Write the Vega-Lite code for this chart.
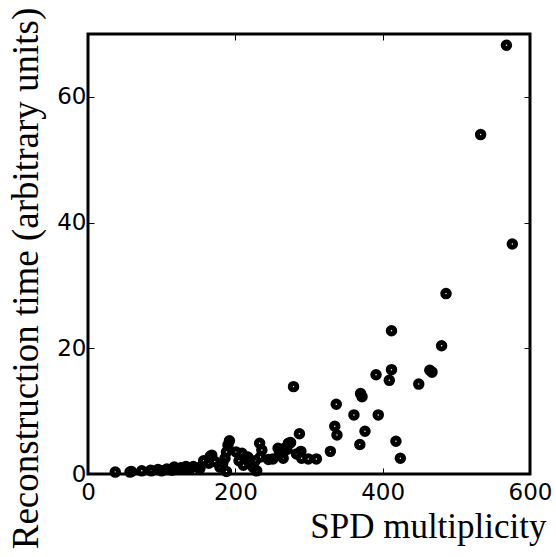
{
  "$schema": "https://vega.github.io/schema/vega-lite/v6.json",
  "width": 442,
  "height": 440,
  "autosize": "none",
  "padding": {"left": 88, "top": 34, "right": 26, "bottom": 83},
  "background": "white",
  "config": {
    "view": {"stroke": "black", "strokeWidth": 3},
    "axis": {"domain": false, "grid": false}
  },
  "data": {
    "values": [
      {"m": 568, "t": 68.2}, {"m": 533, "t": 54.0}, {"m": 576, "t": 36.6}, {"m": 486, "t": 28.7},
      {"m": 412, "t": 22.8}, {"m": 480, "t": 20.4}, {"m": 412, "t": 16.6}, {"m": 391, "t": 15.8},
      {"m": 409, "t": 14.9}, {"m": 464, "t": 16.5}, {"m": 467, "t": 16.2}, {"m": 449, "t": 14.3},
      {"m": 370, "t": 12.8}, {"m": 372, "t": 12.3}, {"m": 279, "t": 13.9}, {"m": 337, "t": 11.1},
      {"m": 361, "t": 9.4}, {"m": 394, "t": 9.4}, {"m": 335, "t": 7.6}, {"m": 338, "t": 6.2},
      {"m": 376, "t": 6.8}, {"m": 369, "t": 4.7}, {"m": 418, "t": 5.2}, {"m": 424, "t": 2.5},
      {"m": 329, "t": 3.6}, {"m": 287, "t": 6.4}, {"m": 310, "t": 2.4}, {"m": 299, "t": 2.4},
      {"m": 290, "t": 2.5}, {"m": 289, "t": 3.6}, {"m": 283, "t": 3.2}, {"m": 275, "t": 5.0},
      {"m": 272, "t": 4.9}, {"m": 270, "t": 3.9}, {"m": 267, "t": 4.1}, {"m": 265, "t": 2.5},
      {"m": 263, "t": 3.3}, {"m": 260, "t": 3.5}, {"m": 258, "t": 4.1}, {"m": 251, "t": 2.4},
      {"m": 245, "t": 2.3}, {"m": 236, "t": 3.8}, {"m": 233, "t": 4.9}, {"m": 234, "t": 2.7},
      {"m": 229, "t": 0.5}, {"m": 227, "t": 2.1}, {"m": 224, "t": 1.1}, {"m": 220, "t": 1.9},
      {"m": 217, "t": 2.7}, {"m": 213, "t": 2.5}, {"m": 211, "t": 1.4}, {"m": 209, "t": 3.3},
      {"m": 205, "t": 2.1}, {"m": 201, "t": 3.5}, {"m": 192, "t": 5.3}, {"m": 190, "t": 4.6},
      {"m": 188, "t": 3.5}, {"m": 186, "t": 2.5}, {"m": 183, "t": 1.7}, {"m": 188, "t": 0.4},
      {"m": 179, "t": 1.1}, {"m": 172, "t": 2.0}, {"m": 168, "t": 3.0}, {"m": 166, "t": 2.8},
      {"m": 164, "t": 1.7}, {"m": 157, "t": 2.1}, {"m": 152, "t": 0.9}, {"m": 150, "t": 1.0},
      {"m": 143, "t": 1.2}, {"m": 138, "t": 0.75}, {"m": 133, "t": 1.2}, {"m": 127, "t": 0.75},
      {"m": 126, "t": 1.0}, {"m": 117, "t": 1.1}, {"m": 114, "t": 0.6}, {"m": 107, "t": 0.8},
      {"m": 100, "t": 0.5}, {"m": 95, "t": 0.7}, {"m": 86, "t": 0.5}, {"m": 85, "t": 0.6},
      {"m": 73, "t": 0.5}, {"m": 59, "t": 0.4}, {"m": 57, "t": 0.3}, {"m": 37, "t": 0.3}
    ]
  },
  "layer": [
    {
      "mark": {"type": "point", "filled": false, "shape": "circle", "stroke": "black", "strokeWidth": 5, "size": 42, "opacity": 1},
      "encoding": {
        "x": {
          "field": "m", "type": "quantitative",
          "scale": {"domain": [0, 600], "nice": false, "zero": false},
          "axis": {
            "orient": "bottom", "values": [0, 200, 400, 600], "tickSize": -6, "tickColor": "black", "tickWidth": 1,
            "labelFont": "DejaVu Sans", "labelFontSize": 23, "labelColor": "black", "labelPadding": 13,
            "labelFlush": false, "labelOverlap": false,
            "title": "SPD multiplicity", "titleFont": "Liberation Serif", "titleFontSize": 35, "titleFontWeight": "normal",
            "titleColor": "black", "titleAlign": "right", "titleBaseline": "alphabetic", "titleX": 458, "titleY": 63
          }
        },
        "y": {
          "field": "t", "type": "quantitative",
          "scale": {"domain": [0, 70], "nice": false, "zero": false},
          "axis": {
            "orient": "left", "values": [0, 20, 40, 60], "tickSize": -6, "tickColor": "black", "tickWidth": 1,
            "labelFont": "DejaVu Sans", "labelFontSize": 23, "labelColor": "black", "labelPadding": 8,
            "labelFlush": false, "labelOverlap": false,
            "title": "Reconstruction time (arbitrary units)", "titleFont": "Liberation Serif", "titleFontSize": 37, "titleFontWeight": "normal",
            "titleColor": "black", "titleAngle": -90, "titleAlign": "center", "titleBaseline": "alphabetic", "titleX": -51, "titleY": 244
          }
        }
      }
    },
    {
      "mark": {"type": "point", "opacity": 0},
      "encoding": {
        "x": {
          "field": "m", "type": "quantitative",
          "scale": {"domain": [0, 600], "nice": false, "zero": false},
          "axis": {"orient": "top", "values": [200, 400], "tickSize": -6, "tickColor": "black", "labels": false, "title": null}
        },
        "y": {
          "field": "t", "type": "quantitative",
          "scale": {"domain": [0, 70], "nice": false, "zero": false},
          "axis": {"orient": "right", "values": [20, 40, 60], "tickSize": -6, "tickColor": "black", "labels": false, "title": null}
        }
      }
    }
  ],
  "resolve": {"axis": {"x": "independent", "y": "independent"}}
}
